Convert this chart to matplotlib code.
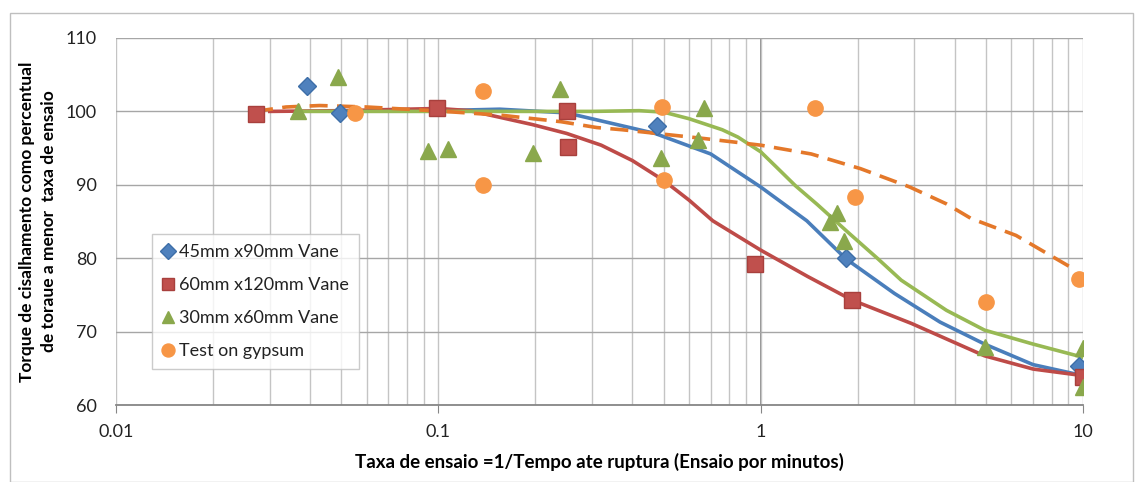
import numpy as np
import matplotlib
matplotlib.use("Agg")
import matplotlib.pyplot as plt
from matplotlib.patches import Rectangle
from matplotlib.ticker import LogLocator, FixedLocator, NullFormatter

plt.rcParams['font.family'] = ['Lato', 'DejaVu Sans']

# measured points
x_45 = [0.039, 0.0495, 0.477, 1.84, 9.7]
y_45 = [103.5, 99.8, 98.0, 80.0, 65.3]

x_60 = [0.0271, 0.099, 0.25, 0.252, 0.96, 1.92, 10.0]
y_60 = [99.7, 100.5, 100.1, 95.1, 79.2, 74.3, 63.8]

x_30 = [0.0368, 0.049, 0.093, 0.107, 0.197, 0.239, 0.491, 0.637, 0.669,
        1.64, 1.72, 1.81, 4.95, 10.0, 10.0]
y_30 = [100.0, 104.7, 94.6, 94.9, 94.4, 103.1, 93.6, 96.1, 100.5,
        84.9, 86.1, 82.3, 67.9, 67.7, 62.4]

x_gyp = [0.055, 0.138, 0.138, 0.494, 0.50, 1.47, 1.96, 4.99, 9.7]
y_gyp = [99.8, 102.8, 90.0, 100.6, 90.6, 100.5, 88.3, 74.1, 77.1]

# fitted curves
cx_45 = [0.05, 0.1, 0.155, 0.25, 0.47, 0.7, 1.0, 1.39, 1.84, 2.6, 3.6, 4.95, 7.0, 10.0]
cy_45 = [100.0, 100.1, 100.3, 99.8, 97.0, 94.2, 89.7, 85.1, 79.9, 75.2, 71.3, 68.3, 65.5, 64.0]

cx_60 = [0.03, 0.05, 0.1, 0.125, 0.155, 0.196, 0.25, 0.32, 0.4, 0.5, 0.6, 0.71, 1.0,
         1.4, 1.92, 2.94, 4.95, 7.0, 10.0]
cy_60 = [100.0, 100.1, 100.4, 100.1, 99.2, 98.2, 97.0, 95.4, 93.3, 90.6, 87.9, 85.1, 81.1,
         77.5, 74.3, 71.1, 66.7, 64.9, 64.0]

cx_30 = [0.037, 0.1, 0.2, 0.3, 0.42, 0.5, 0.6, 0.67, 0.76, 0.85, 1.0, 1.12, 1.28, 1.5,
         1.88, 2.3, 2.73, 3.77, 4.95, 7.0, 10.0]
cy_30 = [100.0, 100.0, 100.0, 100.0, 100.1, 99.9, 99.0, 98.3, 97.5, 96.5, 94.5, 92.4, 89.9,
         87.3, 83.4, 80.0, 77.0, 72.9, 70.2, 68.3, 66.5]

cx_gyp = [0.027, 0.0337, 0.0428, 0.06, 0.096, 0.155, 0.24, 0.31, 0.372, 0.669, 1.0, 1.435,
          2.04, 2.9, 3.77, 4.5, 6.2, 9.3]
cy_gyp = [100.0, 100.6, 100.8, 100.6, 100.1, 99.5, 98.6, 97.8, 97.5, 96.3, 95.4, 94.2,
          92.2, 89.7, 87.4, 85.4, 83.1, 78.6]

labels = ["45mm x90mm Vane", "60mm x120mm Vane", "30mm x60mm Vane", "Test on gypsum"]

W, H = 1144, 482
fig = plt.figure(figsize=(W / 100, H / 100), dpi=100)
fig.patches.append(Rectangle((10 / W, 0), 1123 / W, 1 - 13 / H, transform=fig.transFigure,
                             fill=False, edgecolor='#bfbfbf', lw=1))
ax = fig.add_axes([116 / W, 1 - 405 / H, (1083 - 116) / W, (405 - 38) / H])

ax.set_xscale('log')
ax.set_xlim(0.01, 10)
ax.set_ylim(60, 110)
ax.set_yticks([60, 70, 80, 90, 100, 110])
ax.xaxis.set_major_locator(FixedLocator([0.01, 0.1, 1, 10]))
ax.set_xticklabels(["0.01", "0.1", "1", "10"])
ax.xaxis.set_minor_locator(LogLocator(base=10, subs=np.arange(2, 10)))
ax.xaxis.set_minor_formatter(NullFormatter())

ax.grid(True, which='major', axis='y', color='#a6a6a6', lw=1)
ax.grid(True, which='both', axis='x', color='#c4c4c4', lw=1)
ax.axvline(1, color='#868686', lw=1.3, zorder=1)
for s in ['top', 'right', 'left']:
    ax.spines[s].set_visible(False)
ax.spines['bottom'].set_color('#868686')
ax.spines['bottom'].set_linewidth(1.3)
ax.tick_params(axis='x', which='major', direction='out', length=6, color='#868686',
               labelsize=13, pad=8, labelcolor='#222222')
ax.tick_params(axis='x', which='minor', length=0)
ax.tick_params(axis='y', length=0, labelsize=13, pad=14, labelcolor='#222222')

ax.plot(cx_45, cy_45, color='#4a7ebb', lw=2.6, zorder=3)
ax.plot(cx_60, cy_60, color='#be4b48', lw=2.6, zorder=3)
ax.plot(cx_30, cy_30, color='#98b954', lw=2.6, zorder=3)
ax.plot(cx_gyp, cy_gyp, color='#e4782a', lw=2.6, dashes=(5, 2.6), zorder=3)

ax.plot(x_45, y_45, 'D', color='#4f81bd', mec='#3d6ea8', ms=9, ls='none', label=labels[0], zorder=4)
ax.plot(x_60, y_60, 's', color='#c0504d', mec='#a8403d', ms=11, ls='none', label=labels[1], zorder=4)
ax.plot(x_30, y_30, '^', color='#8aa84c', mec='#8aa84c', ms=11, ls='none', label=labels[2], zorder=4)
ax.plot(x_gyp, y_gyp, 'o', color='#f79646', mec='#f79646', ms=11, ls='none', label=labels[3], zorder=4)

leg = ax.legend(loc='upper left', bbox_to_anchor=((143 - 116) / 967, (405 - 225) / 367),
                fontsize=13, frameon=True, fancybox=False, borderpad=0.55,
                labelspacing=0.95, handlelength=0.7, handletextpad=0.25, markerscale=0.85)
leg.get_frame().set_edgecolor('#bfbfbf')
leg.get_frame().set_linewidth(1)
for t in leg.get_texts():
    t.set_color('#222222')

ax.set_xlabel("Taxa de ensaio =1/Tempo ate ruptura (Ensaio por minutos)", fontsize=13.5,
              fontweight='bold', labelpad=9)
ax.set_ylabel("Torque de cisalhamento como percentual\nde toraue a menor  taxa de ensaio",
              fontsize=12.5, fontweight='bold', labelpad=6, linespacing=1.45)

fig.savefig("out.png", dpi=100)
